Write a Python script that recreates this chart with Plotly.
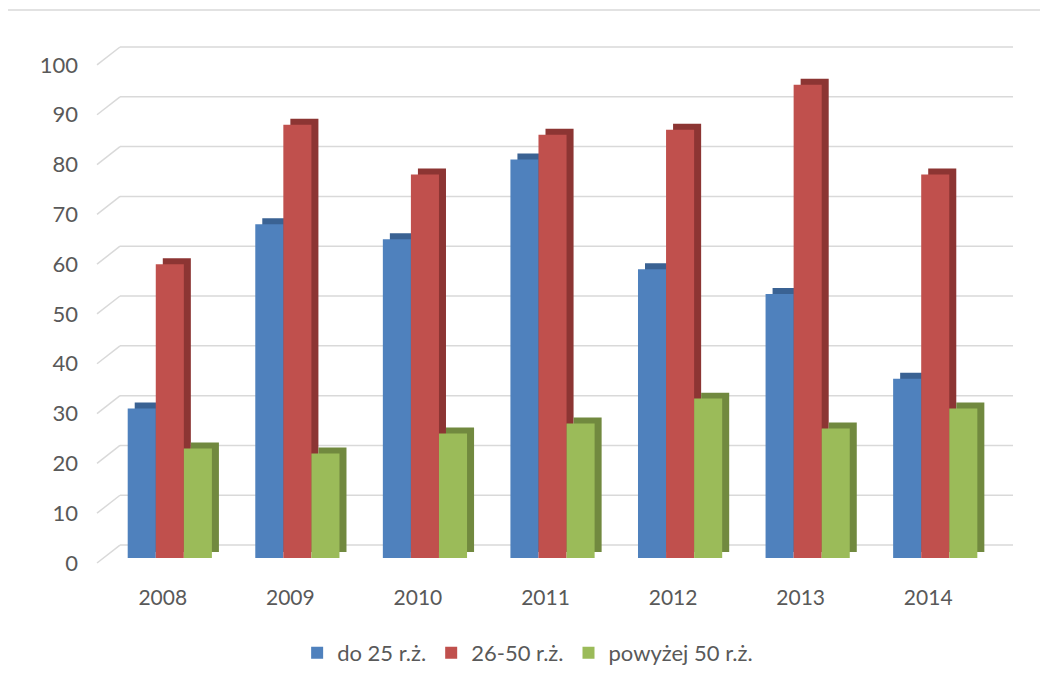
import plotly.graph_objects as go

years = ["2008", "2009", "2010", "2011", "2012", "2013", "2014"]
series_names = ["do 25 r.ż.", "26-50 r.ż.", "powyżej 50 r.ż."]
do25 = [30, 67, 64, 80, 58, 53, 36]
r26_50 = [59, 87, 77, 85, 86, 95, 77]
pow50 = [22, 21, 25, 27, 32, 26, 30]
y_ticks = [0, 10, 20, 30, 40, 50, 60, 70, 80, 90, 100]

front_colors = ["#4F81BD", "#C0504D", "#9BBB59"]
side_colors = ["#3A6293", "#8C3533", "#71893F"]

W, H = 1048, 686
OFFX, OFFY = 8, 8       # page body margin offset seen on screen
L, R = 99 - OFFX, 992 - OFFX
T, B = 45 - OFFY, 558 - OFFY
YMAX = 103.0
bar_w = 0.22
offsets = [-0.275, -0.055, 0.165]
depth_dx = 0.055
depth_dy = 1.2

fig = go.Figure()
all_vals = [do25, r26_50, pow50]

# depth (side/top) faces
for vals, off, col in zip(all_vals, offsets, side_colors):
    fig.add_trace(go.Bar(
        x=years, y=vals, base=depth_dy, offset=off + depth_dx, width=bar_w,
        marker=dict(color=col, line=dict(width=0)), showlegend=False, hoverinfo="skip"))
# front faces
for vals, off, col, name in zip(all_vals, offsets, front_colors, series_names):
    fig.add_trace(go.Bar(
        x=years, y=vals, offset=off, width=bar_w, name=name,
        marker=dict(color=col, line=dict(width=0))))

pw = R - L
ph = B - T
def px_x(p):
    return (p - OFFX - L) / pw
def px_y(p):
    return (B - (p - OFFY)) / ph

shapes = []
back_dx = 21 / pw
for v in y_ticks:
    yb = (v + 2.6) / YMAX
    yf = (v - 1.0) / YMAX
    shapes.append(dict(type="line", xref="paper", yref="paper", x0=back_dx, x1=px_x(1013),
                       y0=yb, y1=yb, line=dict(color="#D9D9D9", width=1.5), layer="below"))
    shapes.append(dict(type="line", xref="paper", yref="paper", x0=px_x(97), x1=back_dx,
                       y0=yf, y1=yb, line=dict(color="#D9D9D9", width=1.5), layer="below"))
# chart border
shapes.append(dict(type="rect", xref="paper", yref="paper", x0=px_x(7), x1=px_x(1070),
                   y0=px_y(700), y1=px_y(10), line=dict(color="#D9D9D9", width=1.5), layer="below"))

fig.update_layout(
    width=W, height=H,
    margin=dict(l=L, r=W - R, t=T, b=H - B, pad=0),
    barmode="overlay",
    plot_bgcolor="white", paper_bgcolor="white",
    font=dict(family="Lato", size=21, color="#595959"),
    shapes=shapes,
    showlegend=True,
    legend=dict(orientation="h", x=0.48, xanchor="center", y=px_y(653), yanchor="middle",
                font=dict(size=22, color="#595959"), traceorder="normal",
                itemwidth=30, tracegroupgap=0),
    xaxis=dict(range=[-0.5, 6.5], showgrid=False, zeroline=False, showline=False,
               ticks="", ticklabelstandoff=25, tickfont=dict(size=21)),
    yaxis=dict(range=[0, YMAX], tickvals=y_ticks, showgrid=False, zeroline=False,
               showline=False, ticks="", ticklabelstandoff=20, ticklabelshift=5,
               tickfont=dict(size=22)),
)

fig.write_html("out.html")
